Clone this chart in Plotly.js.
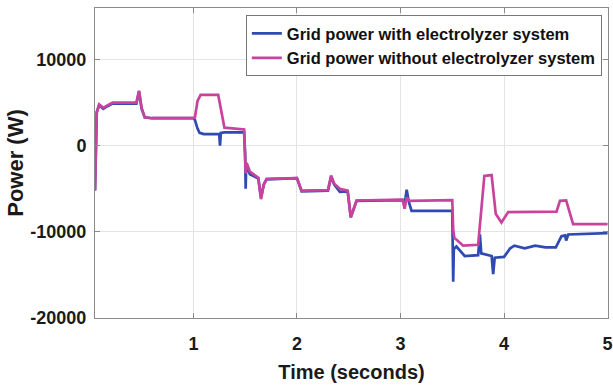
<!DOCTYPE html>
<html>
<head>
<meta charset="utf-8">
<script src="https://cdn.plot.ly/plotly-3.0.1.min.js"></script>
<style>
  html, body { margin: 0; padding: 0; background: #ffffff; }
  #chart { width: 613px; height: 392px; }
</style>
</head>
<body>
<div id="chart"></div>
<script>
// Grid power with the electrolyzer system connected (time in s, power in W)
const tWith = [0.05, 0.058, 0.067, 0.09, 0.13, 0.17, 0.22, 0.3, 0.45, 0.475, 0.5, 0.53, 0.6, 1.0,
  1.015, 1.04, 1.06, 1.1, 1.25, 1.257, 1.265, 1.3, 1.49, 1.5, 1.505, 1.51, 1.546, 1.627, 1.653,
  1.68, 1.707, 2.0, 2.045, 2.3, 2.33, 2.36, 2.415, 2.49, 2.52, 2.576, 3.02, 3.04, 3.06, 3.08,
  3.107, 3.5, 3.509, 3.515, 3.54, 3.62, 3.75, 3.767, 3.78, 3.88, 3.895, 3.91, 4.0, 4.06, 4.1,
  4.2, 4.3, 4.4, 4.5, 4.555, 4.59, 4.6, 4.62, 5.0];
const pWith = [-5200, 0, 3900, 4700, 4300, 4600, 4900, 4900, 4900, 6300, 4300, 3300, 3200, 3200,
  3000, 2000, 1500, 1350, 1350, 0, 1500, 1550, 1550, -1000, -5000, -2200, -3300, -3800, -6000,
  -4500, -3900, -3750, -5300, -5200, -3600, -4500, -5350, -5300, -8300, -6400, -6300, -6800, -5100, -6500,
  -7550, -7550, -15800, -12000, -11700, -12800, -12700, -10300, -12500, -12800, -14900, -13000, -12900, -11900, -11600,
  -11900, -11600, -11800, -11800, -10500, -10400, -11000, -10300, -10150];

// Grid power without the electrolyzer system
const tWithout = [0.05, 0.058, 0.067, 0.09, 0.13, 0.17, 0.22, 0.3, 0.45, 0.475, 0.5, 0.53, 0.6, 1.0,
  1.015, 1.04, 1.07, 1.24, 1.27, 1.3, 1.49, 1.5, 1.505, 1.515, 1.546, 1.627, 1.653, 1.68, 1.707,
  2.0, 2.045, 2.3, 2.33, 2.36, 2.415, 2.49, 2.52, 2.576, 3.02, 3.04, 3.06, 3.09, 3.5, 3.509,
  3.52, 3.55, 3.605, 3.75, 3.81, 3.88, 3.92, 3.975, 4.04, 4.507, 4.54, 4.6, 4.667, 5.0];
const pWithout = [-5200, 0, 3900, 4800, 4400, 4700, 5000, 5000, 5000, 6400, 4400, 3300, 3200, 3200,
  3300, 5200, 5900, 5900, 4000, 2100, 1900, -2000, -3200, -2000, -3000, -3700, -6200, -4500, -3850,
  -3750, -5200, -5150, -3450, -4400, -5000, -5200, -8300, -6350, -6250, -7300, -6000, -6400, -6300, -9700,
  -10700, -11000, -11600, -11500, -3500, -3400, -7900, -8900, -7700, -7650, -6400, -6350, -9100, -9100];

const seriesNames = ['Grid power with electrolyzer system', 'Grid power without electrolyzer system'];
const xTicks = [1, 2, 3, 4, 5];
const yTicks = [-20000, -10000, 0, 10000];

const boldFont = 'Arial, "Liberation Sans", Helvetica, sans-serif';

const traces = [
  { x: tWith, y: pWith, name: seriesNames[0], type: 'scatter', mode: 'lines',
    line: { color: '#2f4ab0', width: 2.7 } },
  { x: tWithout, y: pWithout, name: seriesNames[1], type: 'scatter', mode: 'lines',
    line: { color: '#c8449c', width: 2.7 } }
];

const axisCommon = {
  showline: true, linecolor: '#8a8a8a', linewidth: 1, mirror: 'ticks',
  ticks: 'inside', ticklen: 5, tickcolor: '#8a8a8a', tickwidth: 1,
  showgrid: true, gridcolor: '#e4e4e4', gridwidth: 1, zeroline: false,
  tickfont: { family: boldFont, size: 18, color: '#1a1a1a', weight: 'bold' }
};

const layout = {
  width: 613, height: 392,
  margin: { l: 95, r: 5, t: 8, b: 74 },
  paper_bgcolor: '#ffffff', plot_bgcolor: '#ffffff',
  showlegend: true,
  xaxis: Object.assign({}, axisCommon, {
    range: [0.05, 5.004], tickvals: xTicks, ticktext: xTicks.map(String),
    ticklabelstandoff: 9,
    title: { text: 'Time (seconds)', standoff: 12,
      font: { family: boldFont, size: 20, color: '#1a1a1a', weight: 'bold' } }
  }),
  yaxis: Object.assign({}, axisCommon, {
    range: [-20000, 16000], tickvals: yTicks, ticktext: yTicks.map(String),
    ticklabelstandoff: 4,
    title: { text: 'Power (W)', standoff: 0,
      font: { family: boldFont, size: 22, color: '#1a1a1a', weight: 'bold' } }
  }),
  legend: {
    x: 0.988, xanchor: 'right', y: 0.977, yanchor: 'top',
    bgcolor: '#ffffff', bordercolor: '#777777', borderwidth: 1,
    font: { family: boldFont, size: 16.5, color: '#111111', weight: 'bold' },
    itemwidth: 30, tracegroupgap: 0
  }
};

Plotly.newPlot('chart', traces, layout, { displayModeBar: false, staticPlot: true });
</script>
</body>
</html>
